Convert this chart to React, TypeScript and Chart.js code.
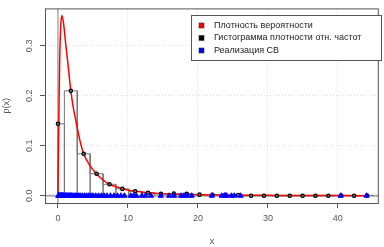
import React, { useEffect, useRef } from "react";
import { Chart, registerables } from "chart.js";

Chart.register(...registerables);

// ---- data ----
const xTicks = [0, 10, 20, 30, 40];
const yTicks = [0, 0.1, 0.2, 0.3];
const yTickLabels = ["0.0", "0.1", "0.2", "0.3"];
const legendLabels = [
  "Плотность вероятности",
  "Гистограмма плотности отн. частот",
  "Реализация СВ",
];

const binWidth = 1.84;
const binCenters = [
  0, 1.84, 3.68, 5.52, 7.36, 9.2, 11.04, 12.88, 14.72, 16.56, 18.4, 20.24, 22.08,
  23.92, 25.76, 27.6, 29.44, 31.28, 33.12, 34.96, 36.8, 38.64, 40.48, 42.32, 44.16,
];
const binHeights = [
  0.144, 0.21, 0.084, 0.044, 0.023, 0.0137, 0.009, 0.006, 0.004, 0.0042, 0.004,
  0.0022, 0.002, 0.0018, 0.0016, 0, 0, 0, 0, 0, 0, 0, 0.0005, 0, 0.0005,
];

const densityX = [
  0, 0.1, 0.24, 0.4, 0.57, 0.8, 1.1, 1.42, 1.84, 2.2, 2.6, 3.1, 3.68, 4.5, 5.5,
  6.4, 7.36, 8.3, 9.2, 10.1, 11, 12.9, 15, 18, 22, 26, 30, 35, 40, 44.2,
];
const densityY = [
  0, 0.127, 0.265, 0.34, 0.361, 0.345, 0.305, 0.265, 0.21, 0.176, 0.147, 0.113,
  0.084, 0.062, 0.044, 0.032, 0.023, 0.018, 0.014, 0.011, 0.009, 0.006, 0.0042,
  0.0028, 0.0017, 0.0011, 0.0008, 0.0005, 0.0003, 0.0002,
];

const sample = [
  0.05, 0.1, 0.15, 0.2, 0.25, 0.3, 0.35, 0.4, 0.45, 0.5, 0.55, 0.6, 0.65, 0.7,
  0.75, 0.8, 0.9, 1.0, 1.1, 1.2, 1.3, 1.4, 1.5, 1.6, 1.7, 1.8, 1.9, 2.0, 2.2,
  2.4, 2.6, 2.8, 3.0, 3.2, 3.5, 3.8, 4.1, 4.4, 4.7, 5.0, 5.4, 5.8, 6.2, 6.6,
  7.0, 7.5, 8.0, 8.5, 9.0, 9.5, 10.4, 10.8, 11.2, 12.0, 12.5, 13.3, 14.7, 15.9,
  16.6, 17.6, 18.0, 18.4, 19.1, 22.0, 23.4, 23.8, 24.1, 24.8, 25.2, 26.1, 40.4,
  44.1,
];

const FONT = "'Liberation Sans', Arial, sans-serif";
const AXIS_COL = "#555";

export default function App() {
  const ref = useRef<HTMLCanvasElement | null>(null);

  useEffect(() => {
    document.body.style.margin = "0";
    const canvas = ref.current;
    if (!canvas) return;

    // histogram outline path built from bin centres / heights
    const histPath: { x: number; y: number }[] = [];
    binCenters.forEach((c, i) => {
      const left = Math.max(0, c - binWidth / 2);
      const right = c + binWidth / 2;
      const h = binHeights[i];
      histPath.push({ x: left, y: 0 }, { x: left, y: h }, { x: right, y: h }, { x: right, y: 0 });
    });

    const extras = {
      id: "rextras",
      beforeDatasetsDraw(chart: any) {
        const { ctx, chartArea: a, scales } = chart;
        const x0 = scales.x.getPixelForValue(0);
        const y0 = scales.y.getPixelForValue(0);
        ctx.save();
        ctx.strokeStyle = "#aaa";
        ctx.lineWidth = 1.5;
        ctx.beginPath();
        ctx.moveTo(x0, a.top);
        ctx.lineTo(x0, a.bottom);
        ctx.stroke();
        ctx.lineWidth = 2;
        ctx.beginPath();
        ctx.moveTo(a.left, y0);
        ctx.lineTo(a.right, y0);
        ctx.stroke();
        ctx.restore();
      },
      afterDraw(chart: any) {
        const { ctx, chartArea: a, scales } = chart;
        ctx.save();
        // box
        ctx.strokeStyle = AXIS_COL;
        ctx.lineWidth = 1;
        ctx.strokeRect(a.left + 0.5, a.top + 0.5, a.right - a.left - 1, a.bottom - a.top);
        // y tick labels rotated
        ctx.fillStyle = AXIS_COL;
        ctx.font = `9px ${FONT}`;
        ctx.textAlign = "center";
        ctx.textBaseline = "middle";
        yTicks.forEach((v, i) => {
          const py = scales.y.getPixelForValue(v);
          ctx.save();
          ctx.translate(30, py);
          ctx.rotate(-Math.PI / 2);
          ctx.fillText(yTickLabels[i], 0, 0);
          ctx.restore();
        });
        // axis titles
        ctx.save();
        ctx.translate(7, (a.top + a.bottom) / 2);
        ctx.rotate(-Math.PI / 2);
        ctx.fillText("p(x)", 0, 0);
        ctx.restore();
        ctx.fillText("x", (a.left + a.right) / 2, 241.5);
        // legend
        const lx = 191, ly = 15, lw = 190, lh = 45;
        ctx.fillStyle = "#fff";
        ctx.fillRect(lx, ly, lw, lh);
        ctx.strokeStyle = AXIS_COL;
        ctx.strokeRect(lx + 0.5, ly + 0.5, lw, lh);
        const cols = ["#ff0000", "#000000", "#0000ff"];
        const rows = [25.5, 38, 50.5];
        ctx.textAlign = "left";
        ctx.font = `9px ${FONT}`;
        legendLabels.forEach((t, i) => {
          ctx.fillStyle = cols[i];
          ctx.fillRect(199, rows[i] - 2.5, 5, 5);
          ctx.strokeStyle = "#333";
          ctx.lineWidth = 0.6;
          ctx.strokeRect(199, rows[i] - 2.5, 5, 5);
          ctx.fillStyle = "#222";
          ctx.fillText(t, 214, rows[i]);
        });
        ctx.restore();
      },
    };

    const chart = new Chart(canvas, {
      type: "scatter",
      data: {
        datasets: [
          {
            label: legendLabels[2],
            data: sample.map((v) => ({ x: v, y: 0 })),
            pointStyle: "triangle",
            pointRadius: 3,
            backgroundColor: "#0000ff",
            borderColor: "#0000ff",
            borderWidth: 1,
            showLine: false,
          },
          {
            label: legendLabels[1],
            data: binCenters.map((c, i) => ({ x: c, y: binHeights[i] })),
            pointStyle: "circle",
            pointRadius: 1.7,
            backgroundColor: "#777",
            borderColor: "#000",
            borderWidth: 1.2,
            showLine: false,
          },
          {
            label: legendLabels[0],
            data: densityX.map((x, i) => ({ x, y: densityY[i] })),
            showLine: true,
            borderColor: "#ff0000",
            borderWidth: 1.5,
            pointRadius: 0,
            tension: 0.25,
            cubicInterpolationMode: "monotone",
          },
          {
            label: "hist",
            data: histPath,
            showLine: true,
            borderColor: "#777",
            borderWidth: 1,
            pointRadius: 0,
            tension: 0,
          },
        ],
      },
      options: {
        animation: false,
        responsive: false,
        events: [],
        layout: { padding: { top: 4, right: 3, left: 0, bottom: 0 } },
        plugins: { legend: { display: false }, tooltip: { enabled: false } },
        scales: {
          x: {
            type: "linear",
            min: -1.85,
            max: 45.85,
            afterBuildTicks: (s: any) => {
              s.ticks = xTicks.map((v) => ({ value: v }));
            },
            afterFit: (s: any) => {
              s.height = 44;
            },
            grid: {
              color: "#ddd",
              borderDash: [1, 2],
              drawTicks: true,
              tickLength: 5,
              tickColor: AXIS_COL,
              tickBorderDash: [],
              tickWidth: 1,
            },
            border: { display: false, dash: [1, 2] },
            ticks: {
              color: AXIS_COL,
              font: { size: 9, family: FONT },
              padding: 5,
              maxRotation: 0,
              callback: (v: any) => String(v),
            },
          },
          y: {
            type: "linear",
            min: -0.0145,
            max: 0.375,
            afterBuildTicks: (s: any) => {
              s.ticks = yTicks.map((v) => ({ value: v }));
            },
            afterFit: (s: any) => {
              s.width = 45;
            },
            grid: {
              color: "#ddd",
              borderDash: [1, 2],
              drawTicks: true,
              tickLength: 5,
              tickColor: AXIS_COL,
              tickBorderDash: [],
              tickWidth: 1,
            },
            border: { display: false, dash: [1, 2] },
            ticks: {
              color: "rgba(0,0,0,0)",
              font: { size: 9, family: FONT },
              callback: (v: any) => Number(v).toFixed(1),
            },
          },
        },
      },
      plugins: [extras],
    });

    return () => chart.destroy();
  }, []);

  return (
    <div style={{ width: 384, height: 247 }}>
      <canvas ref={ref} width={384} height={247} style={{ width: 384, height: 247, display: "block" }} />
    </div>
  );
}
